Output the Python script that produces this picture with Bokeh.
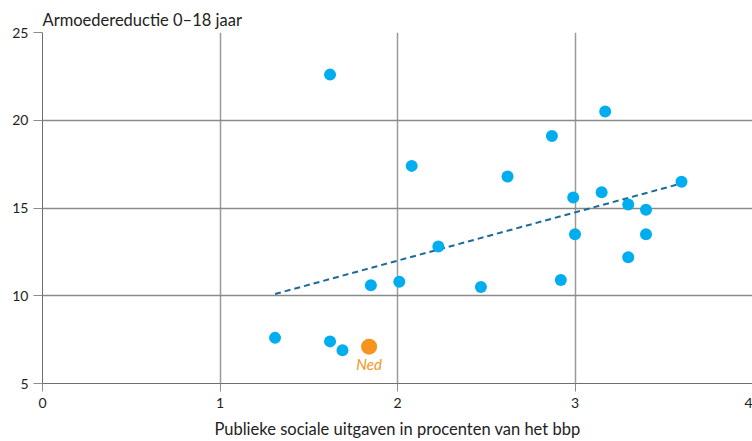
from bokeh.plotting import figure
from bokeh.models import ColumnDataSource, Range1d, FixedTicker, Label
from bokeh.embed import file_html
from bokeh.resources import INLINE

# data
spend = [1.62, 3.17, 2.87, 2.08, 2.62, 3.60, 2.99, 3.15, 3.30, 3.40, 3.00, 3.40,
         3.30, 2.23, 2.92, 2.01, 1.85, 2.47, 1.31, 1.62, 1.69]
reduction = [22.6, 20.5, 19.1, 17.4, 16.8, 16.5, 15.6, 15.9, 15.2, 14.9, 13.5, 13.5,
             12.2, 12.8, 10.9, 10.8, 10.6, 10.5, 7.6, 7.4, 6.9]
ned_x = [1.84]
ned_y = [7.1]
trend_x = [1.31, 3.60]
trend_y = [10.1, 16.4]
x_ticks = [0, 1, 2, 3, 4]
y_ticks = [5, 10, 15, 20, 25]

FONT = "Lato"
p = figure(width=752, height=441, output_backend="svg", toolbar_location=None,
           x_range=Range1d(0, 4), y_range=Range1d(5, 25),
           title="Armoedereductie 0–18 jaar",
           min_border_left=42, min_border_right=0, min_border_top=32, min_border_bottom=10)
p.outline_line_color = None
p.background_fill_color = "white"

p.title.text_font = FONT
p.title.text_font_size = "16.5px"
p.title.text_font_style = "normal"
p.title.text_color = "#222222"
p.title.align = "left"
p.title.standoff = 6

for ax, ticks in ((p.xaxis, x_ticks), (p.yaxis, y_ticks)):
    ax.ticker = FixedTicker(ticks=ticks)
    ax.axis_line_color = "#6e6e6e"
    ax.major_tick_line_color = "#8c8c8c"
    ax.minor_tick_line_color = None
    ax.major_tick_out = 9
    ax.major_tick_in = 0
    ax.major_label_text_font = FONT
    ax.major_label_text_font_size = "14px"
    ax.major_label_text_color = "#222222"
    ax.major_label_standoff = 5

p.xaxis.major_tick_out = 8
p.xaxis.major_label_standoff = 6
p.xaxis.axis_label = "Publieke sociale uitgaven in procenten van het bbp"
p.xaxis.axis_label_text_font = FONT
p.xaxis.axis_label_text_font_style = "normal"
p.xaxis.axis_label_text_font_size = "16.5px"
p.xaxis.axis_label_text_color = "#222222"
p.xaxis.axis_label_standoff = 8

p.xgrid.ticker = FixedTicker(ticks=x_ticks)
p.ygrid.ticker = FixedTicker(ticks=y_ticks)
p.xgrid.grid_line_color = "#9a9a9a"
p.ygrid.grid_line_color = "#8a8a8a"
p.xgrid.grid_line_width = 1.5
p.ygrid.grid_line_width = 1.5

p.line(trend_x, trend_y, line_color="#1c6a98", line_width=2, line_dash="6 4")

src = ColumnDataSource(dict(x=spend, y=reduction))
p.scatter("x", "y", source=src, size=12, fill_color="#00aeef", line_color=None)
p.scatter(ned_x, ned_y, size=16, fill_color="#f7941d", line_color=None)

p.add_layout(Label(x=ned_x[0], y=ned_y[0], text="Ned", y_offset=-8,
                   text_align="center", text_baseline="top",
                   text_font=FONT, text_font_style="italic",
                   text_font_size="15px", text_color="#f7941d"))

open("out.html", "w").write(file_html(p, INLINE))
